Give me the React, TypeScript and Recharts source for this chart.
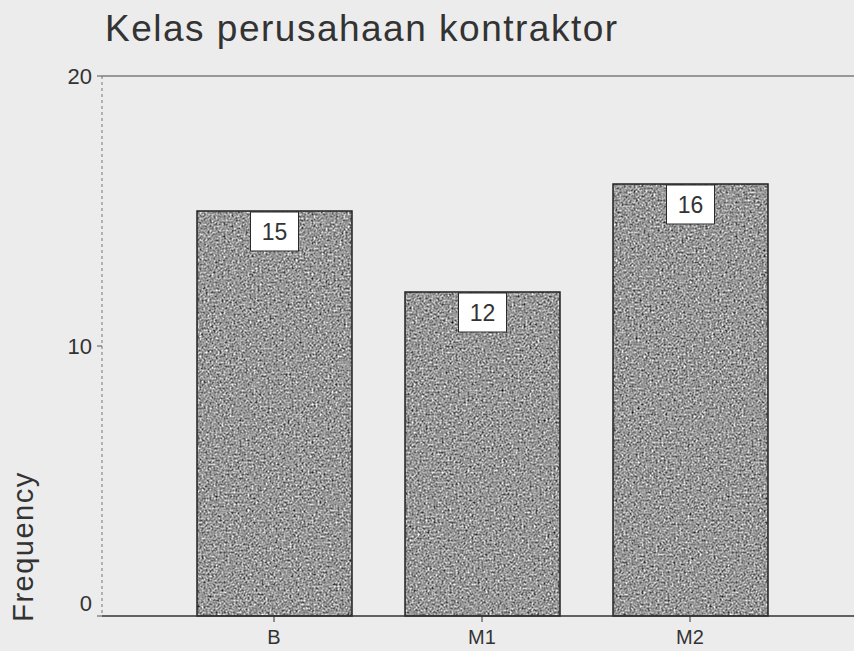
import React from 'react';
import { BarChart, Bar, XAxis, YAxis, ReferenceLine, LabelList } from 'recharts';

const categories = ['B', 'M1', 'M2'];
const frequencies = [15, 12, 16];
const yTicks = [0, 10, 20];
const titleText = 'Kelas perusahaan kontraktor';
const yAxisTitle = 'Frequency';

const data = categories.map((c, i) => ({ name: c, value: frequencies[i] }));

const FONT = '"Liberation Sans", Arial, Helvetica, sans-serif';

const ValueBox = (props: any) => {
  const { x, y, width, value } = props;
  const cx = Number(x) + Number(width) / 2;
  const w = 48;
  const h = 39;
  return (
    <g>
      <rect x={cx - w / 2} y={Number(y) + 1} width={w} height={h} fill="#ffffff" stroke="#2a2a2a" strokeWidth={1} />
      <text x={cx} y={Number(y) + 1 + h / 2} textAnchor="middle" dominantBaseline="central" fontSize={23} fontFamily={FONT} fill="#333">
        {value}
      </text>
    </g>
  );
};

const YTick = (props: any) => {
  const { x, y, payload } = props;
  const shift = payload.value === 0 ? -13 : 0;
  return (
    <text x={x} y={y + shift} textAnchor="end" dominantBaseline="central" fontSize={22} fontFamily={FONT} fill="#333">
      {payload.value}
    </text>
  );
};

export default function App() {
  return (
    <div style={{ position: 'absolute', left: 0, top: 0, width: 854, height: 651, background: '#ececec', overflow: 'hidden' }}>
      <svg width={854} height={651} style={{ position: 'absolute', left: 0, top: 0, pointerEvents: 'none' }}>
        <defs>
          <filter
            id="grainFilter"
            x="0"
            y="0"
            width="854"
            height="651"
            filterUnits="userSpaceOnUse"
            colorInterpolationFilters="sRGB"
          >
            <feTurbulence type="fractalNoise" baseFrequency="0.5" numOctaves="2" seed="7" result="noise" />
            <feColorMatrix
              in="noise"
              type="matrix"
              values="0.33 0.33 0.33 0 0  0.33 0.33 0.33 0 0  0.33 0.33 0.33 0 0  0 0 0 0 1"
              result="gray"
            />
            <feComponentTransfer in="gray">
              <feFuncR type="linear" slope="2.0" intercept="-0.40" />
              <feFuncG type="linear" slope="2.0" intercept="-0.40" />
              <feFuncB type="linear" slope="2.0" intercept="-0.40" />
            </feComponentTransfer>
          </filter>
          <pattern id="speckle" patternUnits="userSpaceOnUse" x="0" y="0" width="854" height="651">
            <rect x="0" y="0" width="854" height="651" fill="#999" filter="url(#grainFilter)" />
          </pattern>
        </defs>
      </svg>
      <div
        style={{
          position: 'absolute',
          left: 105,
          top: 10,
          fontFamily: FONT,
          fontSize: 37,
          lineHeight: '37px',
          letterSpacing: 1.5,
          color: '#333',
          whiteSpace: 'nowrap',
        }}
      >
        {titleText}
      </div>
      <div
        style={{
          position: 'absolute',
          left: -57,
          top: 532,
          width: 160,
          height: 29,
          fontFamily: FONT,
          fontSize: 29,
          lineHeight: '29px',
          letterSpacing: 1.5,
          textAlign: 'center',
          color: '#333',
          transform: 'rotate(-90deg)',
          whiteSpace: 'nowrap',
        }}
      >
        {yAxisTitle}
      </div>
      <div style={{ position: 'absolute', left: 0, top: 0 }}>
        <BarChart width={854} height={651} data={data} margin={{ top: 76, right: 0, bottom: 0, left: 0 }}>
          <XAxis
            dataKey="name"
            height={35}
            padding={{ left: 68, right: 60 }}
            interval={0}
            tickSize={6}
            tickMargin={8}
            axisLine={{ stroke: '#333', strokeWidth: 1.5 }}
            tickLine={{ stroke: '#333' }}
            tick={{ fontSize: 20, fill: '#333', fontFamily: FONT }}
          />
          <YAxis
            width={102}
            domain={[0, 20]}
            ticks={yTicks}
            interval={0}
            tickSize={5}
            tickMargin={5}
            axisLine={{ stroke: '#777', strokeDasharray: '3 3' }}
            tickLine={{ stroke: '#555' }}
            tick={<YTick />}
          />
          <ReferenceLine y={20} stroke="#444" strokeWidth={1.2} />
          <Bar dataKey="value" barSize={155} fill="url(#speckle)" stroke="#222" strokeWidth={1.5} isAnimationActive={false}>
            <LabelList dataKey="value" content={<ValueBox />} />
          </Bar>
        </BarChart>
      </div>
    </div>
  );
}
